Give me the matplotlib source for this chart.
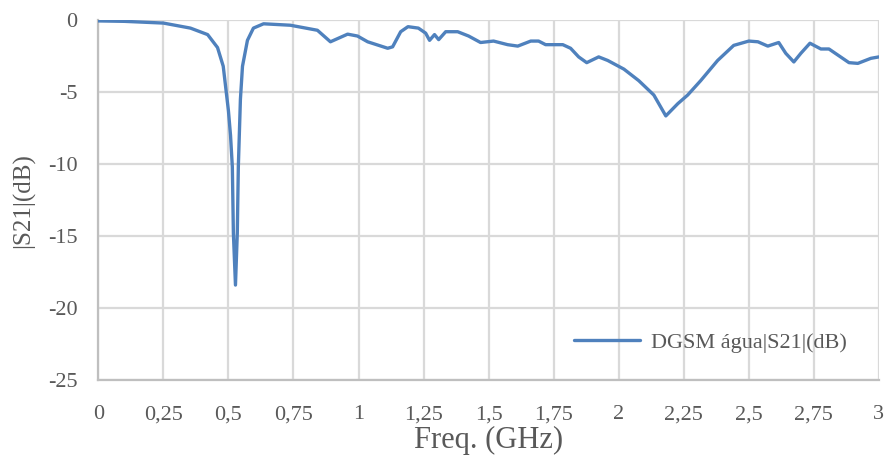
import matplotlib
matplotlib.use("Agg")
import matplotlib.pyplot as plt
import numpy as np

# curve
freq = [0.0, 0.1, 0.25, 0.354, 0.42, 0.458, 0.48, 0.50, 0.508, 0.515, 0.519, 0.527,
        0.534, 0.538, 0.546, 0.554, 0.573, 0.596, 0.635, 0.738, 0.842, 0.892, 0.958,
        0.996, 1.035, 1.112, 1.131, 1.162, 1.19, 1.23, 1.258, 1.273, 1.292, 1.308,
        1.335, 1.381, 1.423, 1.469, 1.519, 1.573, 1.612, 1.662, 1.692, 1.719, 1.785,
        1.815, 1.846, 1.877, 1.923, 1.958, 2.02, 2.077, 2.135, 2.181, 2.227, 2.265,
        2.315, 2.38, 2.442, 2.5, 2.535, 2.573, 2.615, 2.642, 2.673, 2.7, 2.735,
        2.777, 2.808, 2.885, 2.919, 2.969, 3.0]
s21 = [-0.05, -0.08, -0.2, -0.55, -1.0, -1.9, -3.2, -6.3, -8.0, -10.2, -14.8, -18.4,
       -14.8, -10.2, -5.5, -3.2, -1.4, -0.55, -0.25, -0.35, -0.7, -1.5, -0.97,
       -1.1, -1.5, -1.95, -1.85, -0.8, -0.45, -0.55, -0.9, -1.4, -1.0, -1.35,
       -0.8, -0.8, -1.1, -1.55, -1.45, -1.7, -1.8, -1.45, -1.45, -1.7, -1.7,
       -1.95, -2.55, -2.95, -2.55, -2.8, -3.4, -4.2, -5.2, -6.65, -5.8, -5.2,
       -4.2, -2.8, -1.75, -1.45, -1.5, -1.8, -1.55, -2.3, -2.9, -2.3, -1.6,
       -2.0, -2.0, -2.95, -3.0, -2.65, -2.55]

xticks = [0, 0.25, 0.5, 0.75, 1, 1.25, 1.5, 1.75, 2, 2.25, 2.5, 2.75, 3]
xticklabels = ["0", "0,25", "0,5", "0,75", "1", "1,25", "1,5", "1,75", "2",
               "2,25", "2,5", "2,75", "3"]
yticks = [0, -5, -10, -15, -20, -25]

plt.rcParams['font.family'] = ['Liberation Serif', 'DejaVu Serif']
plt.rcParams['axes.unicode_minus'] = False
txt = '#595959'

fig = plt.figure(figsize=(8.86, 4.59), dpi=100)
ax = fig.add_axes([0.111, 0.172, 0.881, 0.784])

ax.plot(freq, s21, color='#4f81bd', lw=2.4, label='DGSM água|S21|(dB)',
        solid_joinstyle='round', solid_capstyle='round', zorder=3)

ax.set_xlim(0, 3)
ax.set_ylim(-25, 0)
ax.set_xticks(xticks)
ax.set_xticklabels(xticklabels)
ax.set_yticks(yticks)
ax.grid(True, color='#d9d9d9', lw=1.6)
ax.set_axisbelow(True)
for s in ['top', 'right']:
    ax.spines[s].set_visible(False)
for s in ['left', 'bottom']:
    ax.spines[s].set_color('#bfbfbf')
    ax.spines[s].set_linewidth(1.6)
ax.tick_params(length=0, labelsize=16, colors=txt)
ax.tick_params(axis='x', pad=18)
ax.tick_params(axis='y', pad=15)

ax.set_xlabel('Freq. (GHz)', fontsize=22, color=txt, labelpad=1)
ax.set_ylabel('|S21|(dB)', fontsize=18, color=txt, labelpad=9)

leg = ax.legend(loc='lower right', bbox_to_anchor=(0.985, 0.02), frameon=False,
                fontsize=16, handlelength=3.0, handletextpad=0.5, labelcolor=txt)

fig.savefig('out.png', dpi=100)
